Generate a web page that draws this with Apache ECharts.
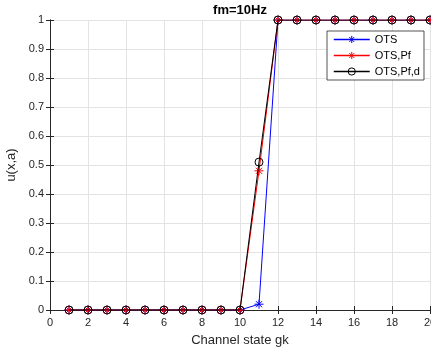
<!DOCTYPE html>
<html>
<head>
<meta charset="utf-8">
<script src="https://cdn.jsdelivr.net/npm/echarts@6/dist/echarts.min.js"></script>
<style>html,body{margin:0;padding:0;background:#fff}#c{width:431px;height:351px}</style>
</head>
<body>
<div id="c"></div>
<script>
var xStates = [1,2,3,4,5,6,7,8,9,10,11,12,13,14,15,16,17,18,19,20];
var otsValues = [0,0,0,0,0,0,0,0,0,0,0.02,1,1,1,1,1,1,1,1,1];
var otsPfValues = [0,0,0,0,0,0,0,0,0,0,0.48,1,1,1,1,1,1,1,1,1];
var otsPfdValues = [0,0,0,0,0,0,0,0,0,0,0.51,1,1,1,1,1,1,1,1,1];
var seriesNames = ['OTS','OTS,Pf','OTS,Pf,d'];
var seriesColors = ['#0000ff','#ff0000','#000000'];
var titleText = 'fm=10Hz';
var xLabel = 'Channel state gk';
var yLabel = 'u(x,a)';

function pairs(v){ return xStates.map(function(x,i){ return [x, v[i]]; }); }
var FONT = '"Liberation Sans", Arial, Helvetica, sans-serif';
var AX = '#262626';
var ASTER = 'path://M5,0L5,10M0,5L10,5M1.6,1.6L8.4,8.4M1.6,8.4L8.4,1.6';

var chart = echarts.init(document.getElementById('c'), null, {renderer:'canvas'});
var xCommon = {type:'value', min:0, max:20, interval:2};
var yCommon = {type:'value', min:0, max:1, interval:0.1};
chart.setOption({
  animation:false,
  backgroundColor:'#fff',
  textStyle:{fontFamily:FONT},
  graphic:[{type:'text', x:240, y:4, z:10,
    style:{text:titleText, align:'center', verticalAlign:'top', fontSize:13, fontWeight:'bold', fill:'#000', fontFamily:FONT}}],
  grid:{left:50, right:1, top:20, bottom:41, containLabel:false, outerBoundsMode:'none'},
  legend:{orient:'vertical', left:327, top:31, itemWidth:36, itemHeight:9, itemGap:5,
    padding:[3,4,3,6], borderColor:AX, borderWidth:0.8, backgroundColor:'#fff',
    lineStyle:{width:1.5, color:'inherit'},
    itemStyle:{color:'inherit', borderColor:'inherit', borderWidth:1},
    textStyle:{fontSize:11, color:'#000', fontFamily:FONT}, data:seriesNames},
  xAxis:[
    Object.assign({}, xCommon, {position:'bottom', name:xLabel, nameLocation:'middle', nameGap:24,
      nameTextStyle:{fontSize:13, color:AX, fontFamily:FONT},
      axisLine:{show:true, lineStyle:{color:AX, width:1}},
      axisTick:{show:true, inside:true, length:4, lineStyle:{color:AX}},
      axisLabel:{fontSize:11, color:AX, margin:7, fontFamily:FONT},
      splitLine:{show:true, lineStyle:{color:'#e3e3e3', width:1}}}),
    Object.assign({}, xCommon, {position:'top',
      axisLine:{show:true, lineStyle:{color:AX, width:1}},
      axisTick:{show:true, inside:true, length:4, lineStyle:{color:AX}},
      axisLabel:{show:false}, splitLine:{show:false}})
  ],
  yAxis:[
    Object.assign({}, yCommon, {position:'left', name:yLabel, nameLocation:'middle', nameGap:29,
      nameTextStyle:{fontSize:13, color:AX, fontFamily:FONT},
      axisLine:{show:true, lineStyle:{color:AX, width:1}},
      axisTick:{show:true, inside:true, length:4, lineStyle:{color:AX}},
      axisLabel:{fontSize:11, color:AX, margin:6, fontFamily:FONT},
      splitLine:{show:true, lineStyle:{color:'#e3e3e3', width:1}}}),
    Object.assign({}, yCommon, {position:'right',
      axisLine:{show:true, lineStyle:{color:AX, width:1}},
      axisTick:{show:true, inside:true, length:4, lineStyle:{color:AX}},
      axisLabel:{show:false}, splitLine:{show:false}})
  ],
  series:[
    {name:seriesNames[0], type:'line', data:pairs(otsValues), symbol:ASTER, symbolSize:9, color:seriesColors[0],
      lineStyle:{color:seriesColors[0], width:1}, itemStyle:{color:seriesColors[0], borderColor:seriesColors[0], borderWidth:1},
      showAllSymbol:true, z:2},
    {name:seriesNames[1], type:'line', data:pairs(otsPfValues), symbol:ASTER, symbolSize:9, color:seriesColors[1],
      lineStyle:{color:seriesColors[1], width:1}, itemStyle:{color:seriesColors[1], borderColor:seriesColors[1], borderWidth:1},
      showAllSymbol:true, z:3},
    {name:seriesNames[2], type:'line', data:pairs(otsPfdValues), symbol:'circle', symbolSize:8, color:seriesColors[2],
      lineStyle:{color:seriesColors[2], width:1}, itemStyle:{color:'rgba(0,0,0,0)', borderColor:seriesColors[2], borderWidth:1},
      showAllSymbol:true, z:4}
  ]
});
</script>
</body>
</html>
